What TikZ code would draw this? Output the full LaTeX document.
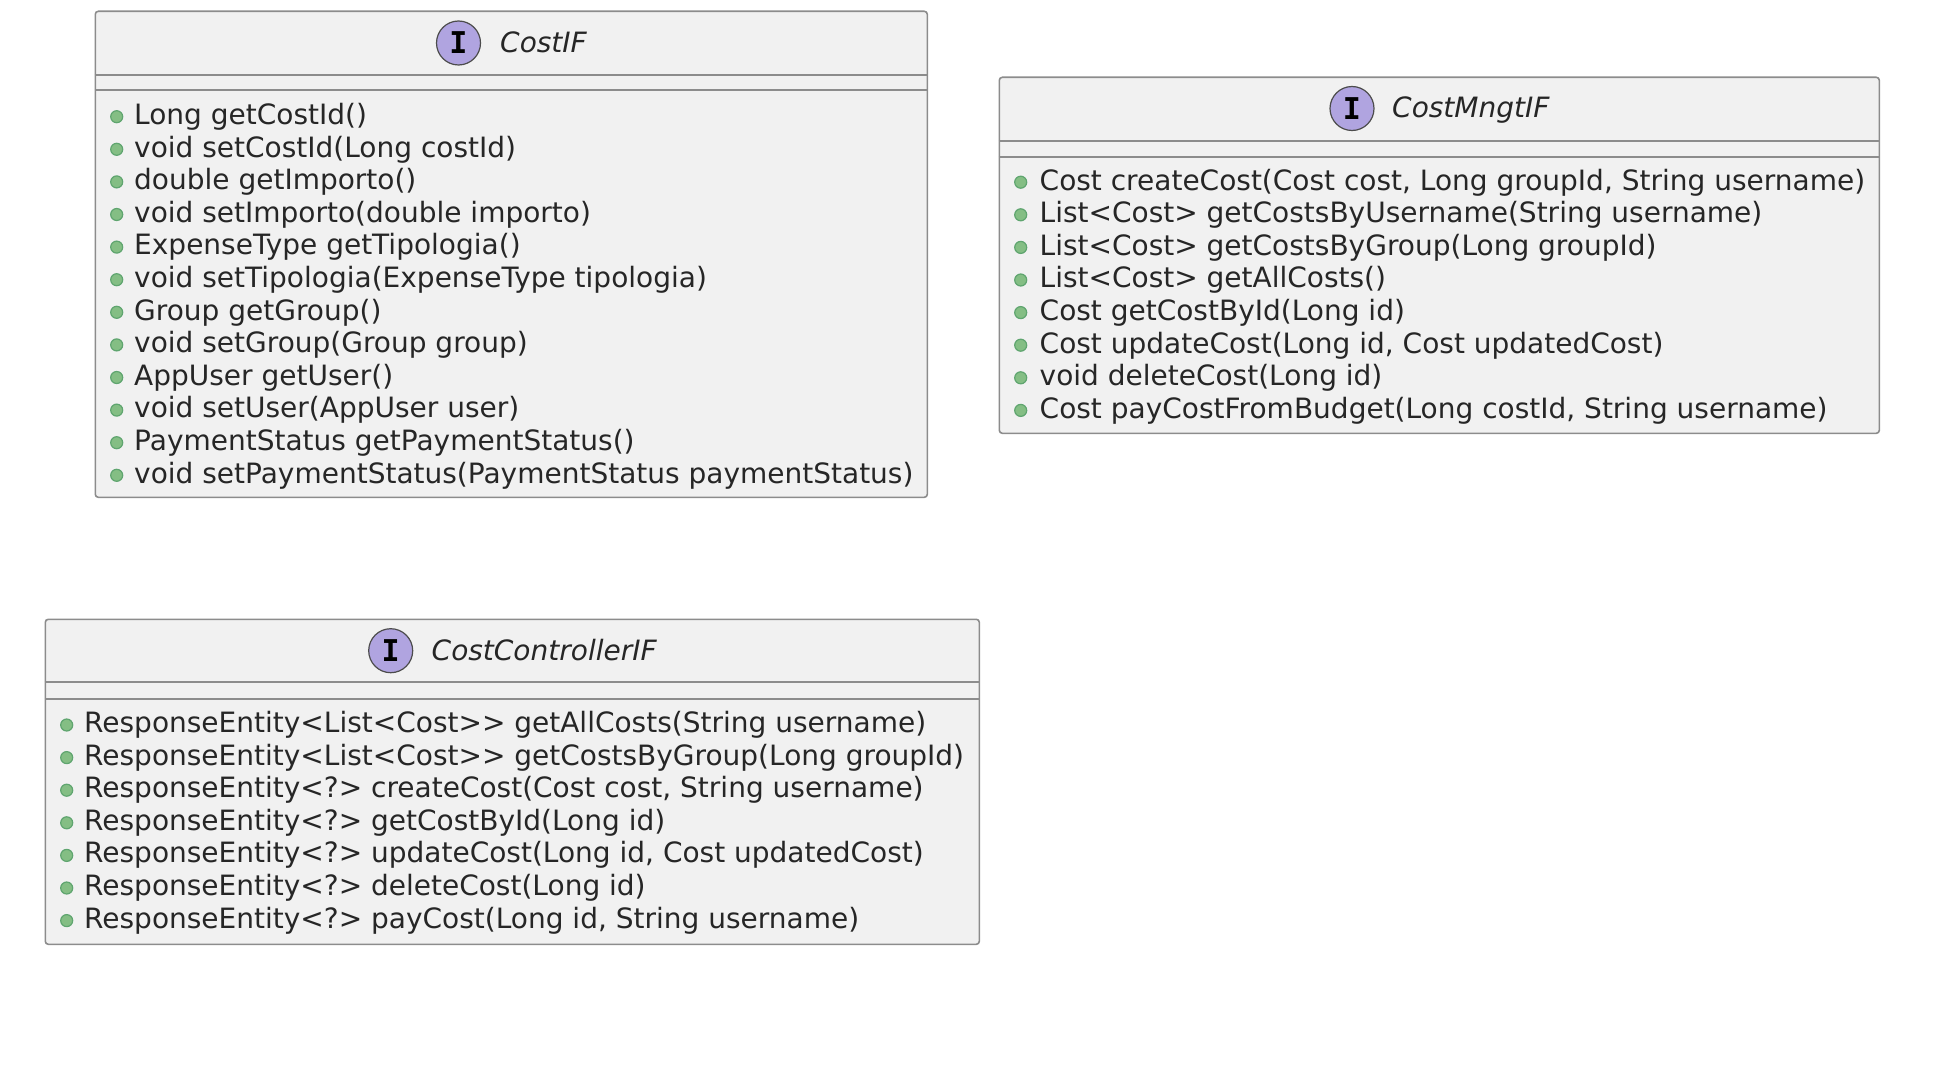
\documentclass[tikz,border=0pt]{standalone}
\usepackage{fontspec}
\setmainfont{DejaVu Sans}
\newfontfamily\iconfont{DejaVu Sans Mono}
\usetikzlibrary{positioning, calc}
\definecolor{boxfill}{HTML}{F1F1F1}
\definecolor{boxline}{HTML}{8C8C8C}
\definecolor{iconfill}{HTML}{B0A4E0}
\definecolor{dotfill}{HTML}{84BE84}
\definecolor{dotline}{HTML}{5FA56F}

\begin{document}
\begin{tikzpicture}[x=1pt, y=-1pt,
    classbox/.style={draw=boxline, line width=1.6pt, fill=boxfill, rounded corners=3pt, anchor=north west, inner sep=0pt},
    sepline/.style={draw=boxline, line width=1.6pt},
    icon/.style={circle, draw=black!70, line width=1.2pt, fill=iconfill, minimum size=44pt, inner sep=0pt, font=\iconfont\bfseries\fontsize{30}{30}\selectfont},
    title/.style={anchor=base west, inner sep=0pt, font=\itshape\fontsize{28}{32}\selectfont, text=black!85},
    member/.style={anchor=base west, inner sep=0pt, font=\fontsize{28}{32}\selectfont, text=black!85},
    dot/.style={circle, draw=dotline, line width=1.2pt, fill=dotfill, minimum size=12pt, inner sep=0pt}]
    \useasboundingbox (0,0) rectangle (1934,1086);

    % CostIF
    \node [classbox, minimum width=832pt, minimum height=486pt] (costif) at (94.5,10.5) {};
    \draw [sepline] (costif.west |- 0,75) -- (costif.east |- 0,75);
    \draw [sepline] (costif.west |- 0,90) -- (costif.east |- 0,90);
    \node [icon] (costificon) at (458.5,43) {I};
    \node [title] (costiftitle) at (500,52.5) {CostIF};
    \foreach \txt [count=\i from 0] in {Long getCostId(), void setCostId(Long costId), double getImporto(), void setImporto(double importo), ExpenseType getTipologia(), void setTipologia(ExpenseType tipologia), Group getGroup(), void setGroup(Group group), AppUser getUser(), void setUser(AppUser user), PaymentStatus getPaymentStatus(), void setPaymentStatus(PaymentStatus paymentStatus)} {
        \node [dot] (costifdot\i) at (116.7,116.7+32.6*\i) {};
        \node [member] (costifrow\i) at (134,124.5+32.6*\i) {\txt};
    }

    % CostMngtIF
    \node [classbox, minimum width=880pt, minimum height=356pt] (costmngt) at (998.5,76.5) {};
    \draw [sepline] (costmngt.west |- 0,141) -- (costmngt.east |- 0,141);
    \draw [sepline] (costmngt.west |- 0,157) -- (costmngt.east |- 0,157);
    \node [icon] (costmngticon) at (1352,108.5) {I};
    \node [title] (costmngttitle) at (1392,118) {CostMngtIF};
    \foreach \txt [count=\i from 0] in {{Cost createCost(Cost cost, Long groupId, String username)}, List<Cost> getCostsByUsername(String username), List<Cost> getCostsByGroup(Long groupId), List<Cost> getAllCosts(), Cost getCostById(Long id), {Cost updateCost(Long id, Cost updatedCost)}, void deleteCost(Long id), {Cost payCostFromBudget(Long costId, String username)}} {
        \node [dot] (costmngtdot\i) at (1020.7,182.2+32.6*\i) {};
        \node [member] (costmngtrow\i) at (1039.5,190+32.6*\i) {\txt};
    }

    % CostControllerIF
    \node [classbox, minimum width=934pt, minimum height=325pt] (costctrl) at (44.5,618.5) {};
    \draw [sepline] (costctrl.west |- 0,682) -- (costctrl.east |- 0,682);
    \draw [sepline] (costctrl.west |- 0,699) -- (costctrl.east |- 0,699);
    \node [icon] (costctrlicon) at (390.7,650.7) {I};
    \node [title] (costctrltitle) at (431.5,660.5) {CostControllerIF};
    \foreach \txt [count=\i from 0] in {ResponseEntity<List<Cost>{}> getAllCosts(String username), ResponseEntity<List<Cost>{}> getCostsByGroup(Long groupId), {ResponseEntity<?> createCost(Cost cost, String username)}, ResponseEntity<?> getCostById(Long id), {ResponseEntity<?> updateCost(Long id, Cost updatedCost)}, ResponseEntity<?> deleteCost(Long id), {ResponseEntity<?> payCost(Long id, String username)}} {
        \node [dot] (costctrldot\i) at (66.7,725+32.6*\i) {};
        \node [member] (costctrlrow\i) at (84,732.5+32.6*\i) {\txt};
    }
\end{tikzpicture}
\end{document}
